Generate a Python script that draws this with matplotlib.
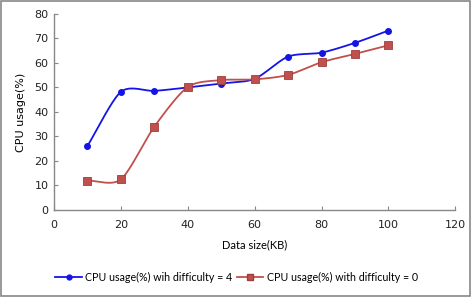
import numpy as np
import matplotlib
matplotlib.use("Agg")
import matplotlib.pyplot as plt
from matplotlib.patches import Rectangle

data_size = [10, 20, 30, 40, 50, 60, 70, 80, 90, 100]
cpu_diff4 = [26.1, 48.2, 48.6, 50.0, 51.6, 53.5, 62.6, 64.2, 68.2, 73.2]
cpu_diff0 = [12.0, 12.5, 34.0, 50.2, 53.0, 53.3, 55.1, 60.3, 63.7, 67.2]

labels = ["CPU usage(%) wih difficulty = 4", "CPU usage(%) with difficulty = 0"]


def smooth(x, y, n=20, k=0.8):
    # Catmull-Rom style curve through the points, like Excel's smoothed line
    x = np.asarray(x, float)
    y = np.asarray(y, float)
    px = np.concatenate([[2 * x[0] - x[1]], x, [2 * x[-1] - x[-2]]])
    py = np.concatenate([[2 * y[0] - y[1]], y, [2 * y[-1] - y[-2]]])
    t = np.linspace(0, 1, n)
    h00 = 2 * t ** 3 - 3 * t ** 2 + 1
    h10 = t ** 3 - 2 * t ** 2 + t
    h01 = -2 * t ** 3 + 3 * t ** 2
    h11 = t ** 3 - t ** 2
    xs, ys = [], []
    for i in range(1, len(px) - 2):
        for p, out in ((px, xs), (py, ys)):
            m1 = k * 0.5 * (p[i + 1] - p[i - 1])
            m2 = k * 0.5 * (p[i + 2] - p[i])
            out.extend(h00 * p[i] + h10 * m1 + h01 * p[i + 1] + h11 * m2)
    return xs, ys


fig = plt.figure(figsize=(4.71, 2.97), dpi=100)
ax = fig.add_axes([0.1146, 0.293, 0.852, 0.660])

blue = "#1414E6"
red = "#C0504D"

sx, sy = smooth(data_size, cpu_diff4)
ax.plot(sx, sy, color=blue, lw=1.3)
ax.plot(data_size, cpu_diff4, ls="none", marker="o", ms=4, color=blue)
sx, sy = smooth(data_size, cpu_diff0)
ax.plot(sx, sy, color=red, lw=1.3)
ax.plot(data_size, cpu_diff0, ls="none", marker="s", ms=6, color=red,
        mec="#A03C3A", mew=0.6)

ax.set_xlim(0, 120)
ax.set_ylim(0, 80)
ax.set_xticks(range(0, 121, 20))
ax.set_yticks(range(0, 81, 10))
for s in ("top", "right"):
    ax.spines[s].set_visible(False)
for s in ("left", "bottom"):
    ax.spines[s].set_color("#888888")
    ax.spines[s].set_linewidth(1.0)
ax.tick_params(direction="in", length=3, color="#888888", labelsize=8,
               labelcolor="#222222", pad=4)
ax.tick_params(axis="x", pad=7)
for lab in ax.get_xticklabels() + ax.get_yticklabels():
    lab.set_family("DejaVu Sans")

ax.set_xlabel("Data size(KB)", family="Lato", fontsize=8, labelpad=7)
ax.set_ylabel("CPU usage(%)", family="DejaVu Sans", fontsize=8, labelpad=6)

h1 = plt.Line2D([], [], color=blue, lw=1.3, marker="o", ms=3.5)
h2 = plt.Line2D([], [], color=red, lw=1.3, marker="s", ms=4.5, mec="#A03C3A")
fig.legend([h1, h2], labels, loc="center", bbox_to_anchor=(0.502, 0.065),
           ncol=2, frameon=False, prop={"family": "Lato", "size": 7.7},
           handlelength=2.5, columnspacing=0.4, handletextpad=0.3)

fig.patches.append(Rectangle((0.002, 0.003), 0.995, 0.993, transform=fig.transFigure,
                             fill=False, edgecolor="#888888", lw=1.2))

fig.savefig("out.png", dpi=100)
